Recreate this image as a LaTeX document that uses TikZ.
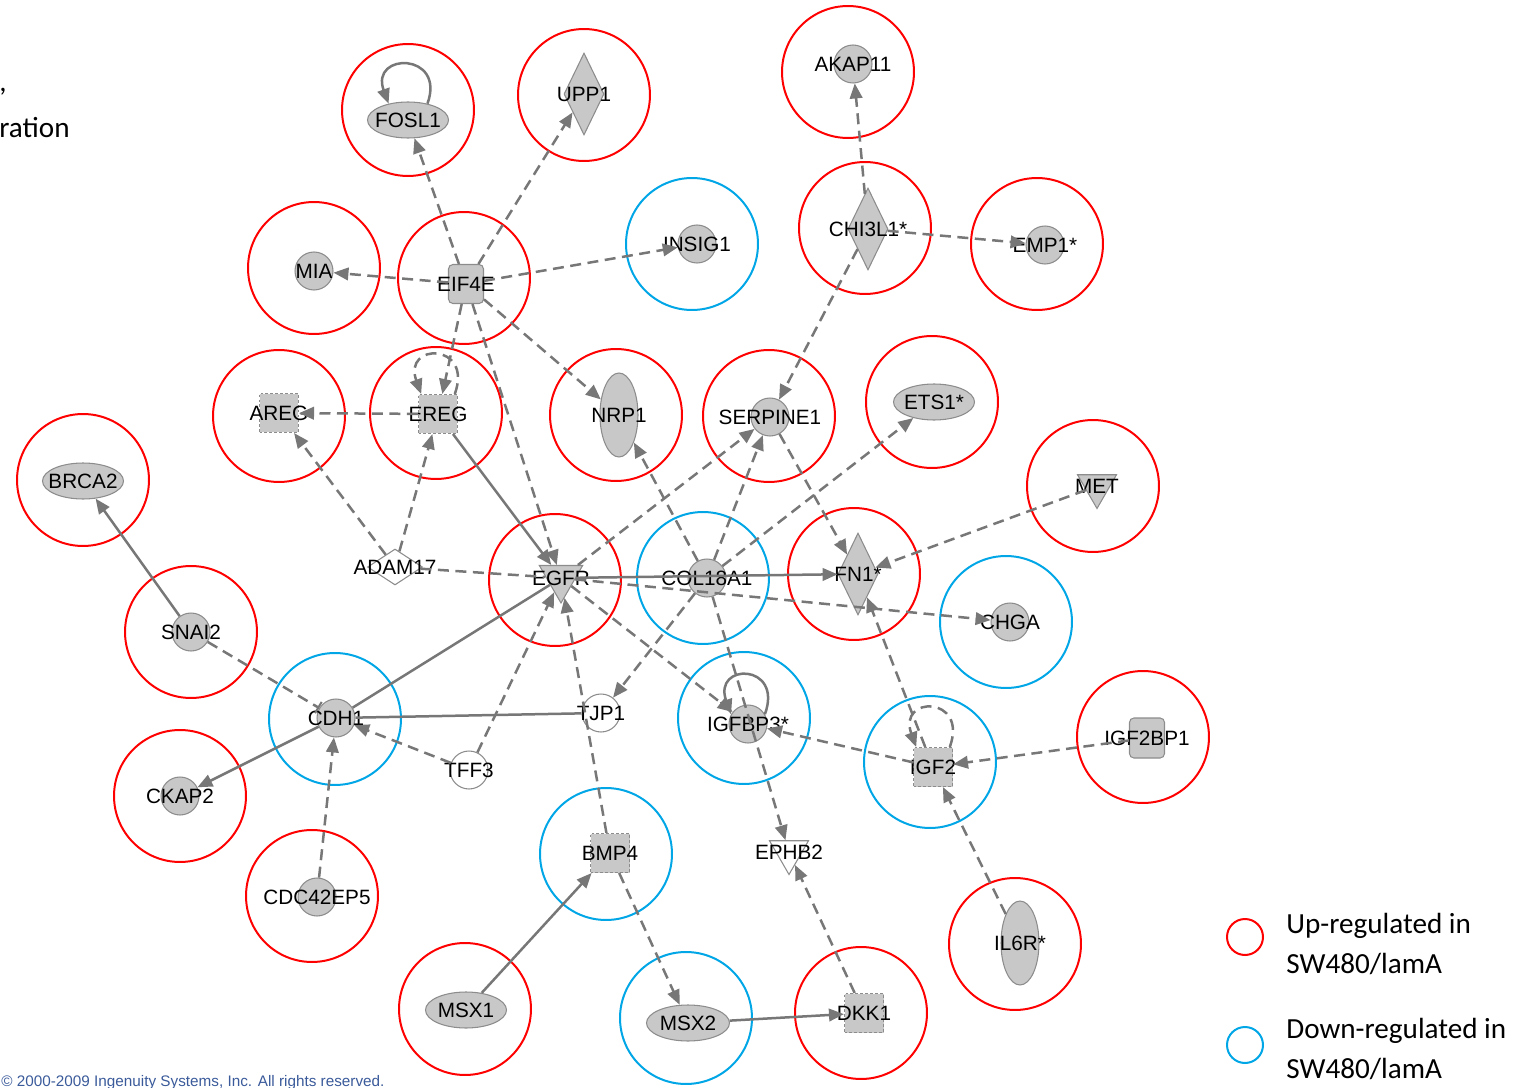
\documentclass[tikz,border=0pt]{standalone}
\usepackage{fontspec}
\newfontfamily\genefont{Liberation Sans}
\newfontfamily\legendfont{Carlito}
\usetikzlibrary{shapes.geometric, arrows.meta}

\definecolor{upred}{HTML}{FF0000}
\definecolor{downblue}{HTML}{00A6E6}
\definecolor{nodefill}{HTML}{C8C8C8}
\definecolor{nodeborder}{HTML}{8C8C8C}
\definecolor{edgegray}{HTML}{777777}
\definecolor{copyblue}{HTML}{3A5A9A}

\newcommand{\genelbl}{\genefont\fontsize{11.8pt}{13pt}\selectfont}
\newcommand{\legendlbl}{\legendfont\fontsize{16.6pt}{23.2pt}\selectfont}

\tikzset{
  gene/.style={draw=nodeborder, fill=nodefill, inner sep=0pt, line width=0.6pt},
  gcirc/.style={gene, circle, minimum size=0.76cm},
  wcirc/.style={gcirc, fill=white},
  hell/.style={gene, ellipse, minimum width=1.62cm, minimum height=0.72cm},
  vell/.style={gene, ellipse, minimum width=0.76cm, minimum height=1.68cm},
  vdiam/.style={gene, diamond, minimum width=0.8cm, minimum height=1.64cm},
  dsq/.style={gene, rectangle, dash pattern=on 1.6pt off 1.2pt, minimum width=0.78cm, minimum height=0.78cm},
  rsq/.style={gene, rectangle, rounded corners=2.5pt, minimum width=0.7cm, minimum height=0.78cm},
  dtri/.style={gene, regular polygon, regular polygon sides=3, shape border rotate=180, minimum size=0.9cm},
  wtri/.style={dtri, fill=white},
  wdiam/.style={gene, diamond, fill=white, minimum width=1.1cm, minimum height=0.72cm},
  every label/.style={font=\genelbl, text=black, inner sep=0pt},
  upring/.style={circle, draw=upred, line width=0.04cm, minimum size=2.64cm, inner sep=0pt},
  downring/.style={upring, draw=downblue},
  act/.style={draw=edgegray, line width=0.05cm, -{Triangle[length=0.3cm, width=0.25cm]}},
  dact/.style={act, dash pattern=on 0.22cm off 0.13cm},
  rel/.style={draw=edgegray, line width=0.05cm},
  drel/.style={rel, dash pattern=on 0.22cm off 0.13cm},
  dinh/.style={drel, -{Bar[width=0.26cm, line width=0.04cm]}},
  loopy/.style={out=70, in=110, min distance=1.1cm}
}

\begin{document}
\begin{tikzpicture}[x=0.02cm, y=-0.02cm]
  \useasboundingbox (0,0) rectangle (1526,1088);

  % rings: up / down regulated
  \foreach \g/\x/\y in {FOSL1/408/110, UPP1/584/95, AKAP11/848/72, CHI3L1/865/228,
      EMP1/1037/244, MIA/314/268, EIF4E/464/278, AREG/279/416, EREG/436/413,
      NRP1/616/415, SERPINE1/769/416, ETS1/932/402, BRCA2/83/480, MET/1093/486,
      EGFR/555/580, FN1/854/574, SNAI2/191/632, IGF2BP1/1143/737, CKAP2/180/796,
      CDC42EP5/312/896, IL6R/1015/944, MSX1/465/1009, DKK1/861/1013}
    \node[upring] (ring\g) at (\x,\y) {};
  \foreach \g/\x/\y in {INSIG1/692/244, COL18A1/703/578, CHGA/1006/622, CDH1/335/719,
      IGFBP3/744/718, IGF2/930/762, BMP4/606/854, MSX2/686/1018}
    \node[downring] (ring\g) at (\x,\y) {};

  % genes
  \node[hell, label=center:FOSL1] (FOSL1) at (408,120) {};
  \node[vdiam, label=center:UPP1] (UPP1) at (584,94) {};
  \node[gcirc, label=center:AKAP11] (AKAP11) at (853,64) {};
  \node[gcirc, label=center:INSIG1] (INSIG1) at (697,244) {};
  \node[vdiam, label=center:CHI3L1*] (CHI3L1) at (868,229) {};
  \node[gcirc, label=center:EMP1*] (EMP1) at (1045,245) {};
  \node[gcirc, label=center:MIA] (MIA) at (314,271) {};
  \node[rsq, label=center:EIF4E] (EIF4E) at (466,284) {};
  \node[dsq, label=center:AREG] (AREG) at (279,413) {};
  \node[dsq, label=center:EREG] (EREG) at (438,414) {};
  \node[vell, label=center:NRP1] (NRP1) at (619,415) {};
  \node[gcirc, label=center:SERPINE1] (SERPINE1) at (770,417) {};
  \node[hell, label=center:ETS1*] (ETS1) at (934,402) {};
  \node[hell, label=center:BRCA2] (BRCA2) at (83,481) {};
  \node[dtri, label=center:MET] (MET) at (1097,486) {};
  \node[wdiam, label=center:ADAM17] (ADAM17) at (395,567) {};
  \node[dtri, minimum size=1cm, label=center:EGFR] (EGFR) at (561,578) {};
  \node[gcirc, label=center:COL18A1] (COL18A1) at (707,578) {};
  \node[vdiam, label=center:FN1*] (FN1) at (858,574) {};
  \node[gcirc, label=center:CHGA] (CHGA) at (1010,622) {};
  \node[gcirc, label=center:SNAI2] (SNAI2) at (191,632) {};
  \node[gcirc, label=center:CDH1] (CDH1) at (336,718) {};
  \node[wcirc, label=center:TJP1] (TJP1) at (601,713) {};
  \node[wcirc, label=center:TFF3] (TFF3) at (469,770) {};
  \node[gcirc, label=center:IGFBP3*] (IGFBP3) at (748,724) {};
  \node[dsq, label=center:IGF2] (IGF2) at (933,767) {};
  \node[rsq, minimum width=0.7cm, minimum height=0.8cm, label=center:IGF2BP1] (IGF2BP1) at (1147,738) {};
  \node[gcirc, label=center:CKAP2] (CKAP2) at (180,796) {};
  \node[gcirc, label=center:CDC42EP5] (CDC42EP5) at (317,897) {};
  \node[dsq, label=center:BMP4] (BMP4) at (610,853) {};
  \node[wtri, label=center:EPHB2] (EPHB2) at (789,852) {};
  \node[vell, label=center:IL6R*] (IL6R) at (1020,943) {};
  \node[hell, label=center:MSX1] (MSX1) at (466,1010) {};
  \node[hell, minimum width=1.66cm, label=center:MSX2] (MSX2) at (688,1023) {};
  \node[dsq, label=center:DKK1] (DKK1) at (864,1013) {};

  % connectors
  \draw[dact] (EIF4E) -- (FOSL1);
  \draw[dact] (EIF4E) -- (UPP1);
  \draw[dact] (EIF4E) -- (MIA);
  \draw[dact] (EIF4E) -- (INSIG1);
  \draw[dact] (EIF4E) -- (EREG);
  \draw[dact] (EIF4E) -- (NRP1);
  \draw[dact] (EIF4E) -- (EGFR);
  \draw[dact] (EREG) -- (AREG);
  \draw[act] (EREG) -- (EGFR);
  \draw[dact] (ADAM17) -- (AREG);
  \draw[dact] (ADAM17) -- (EREG);
  \draw[drel] (ADAM17) -- (EGFR);
  \draw[dact] (CHI3L1) -- (AKAP11);
  \draw[dact] (CHI3L1) -- (EMP1);
  \draw[dact] (CHI3L1) -- (SERPINE1);
  \draw[dact] (SERPINE1) -- (FN1);
  \draw[dact] (EGFR) -- (SERPINE1);
  \draw[dact] (COL18A1) -- (SERPINE1);
  \draw[dact] (COL18A1) -- (NRP1);
  \draw[dact] (COL18A1) -- (ETS1);
  \draw[act] (EGFR) -- (FN1);
  \draw[dact] (EGFR) -- (CHGA);
  \draw[dact] (MET) -- (FN1);
  \draw[dact] (IGF2) -- (FN1);
  \draw[dact] (EGFR) -- (IGFBP3);
  \draw[dact] (COL18A1) -- (TJP1);
  \draw[dact] (COL18A1) -- (EPHB2);
  \draw[dact] (IGF2) -- (IGFBP3);
  \draw[dact] (IGF2BP1) -- (IGF2);
  \draw[dact] (IL6R) -- (IGF2);
  \draw[dact] (DKK1) -- (EPHB2);
  \draw[act] (MSX2) -- (DKK1);
  \draw[dact] (BMP4) -- (MSX2);
  \draw[act] (MSX1) -- (BMP4);
  \draw[dact] (BMP4) -- (EGFR);
  \draw[dact] (TFF3) -- (EGFR);
  \draw[dact] (TFF3) -- (CDH1);
  \draw[rel] (CDH1) -- (TJP1);
  \draw[rel] (CDH1) -- (EGFR);
  \draw[act] (CDH1) -- (CKAP2);
  \draw[dact] (CDC42EP5) -- (CDH1);
  \draw[act] (SNAI2) -- (BRCA2);
  \draw[dinh] (SNAI2) -- (CDH1);

  % self loops
  \draw[act] (FOSL1.40) to[loopy] (FOSL1.140);
  \draw[dact] (EREG.50) to[loopy] (EREG.130);
  \draw[act] (IGFBP3.30) to[loopy] (IGFBP3.150);
  \draw[dact] (IGF2.50) to[loopy] (IGF2.130);

  % legend
  \node[circle, draw=upred, line width=0.04cm, minimum size=0.72cm] (keyup) at (1245,937) {};
  \node[font=\legendlbl, align=left, anchor=west, inner sep=0pt] (keyuptext) at (1286,944)
    {Up-regulated in\\SW480/lamA};
  \node[circle, draw=downblue, line width=0.04cm, minimum size=0.72cm] (keydown) at (1245,1045) {};
  \node[font=\legendlbl, align=left, anchor=west, inner sep=0pt] (keydowntext) at (1286,1049)
    {Down-regulated in\\SW480/lamA};

  % cut-off text at the edges
  \node[font=\legendlbl, anchor=base west, inner sep=0pt] (comma) at (-1,92) {,};
  \node[font=\legendlbl, anchor=base west, inner sep=0pt] (ration) at (-1,138) {ration};
  \node[font=\genefont\fontsize{8.7pt}{10pt}\selectfont, text=copyblue, anchor=base west, inner sep=0pt]
    (copyright) at (1,1086) {© 2000-2009 Ingenuity Systems, Inc. All rights reserved.};
\end{tikzpicture}
\end{document}
